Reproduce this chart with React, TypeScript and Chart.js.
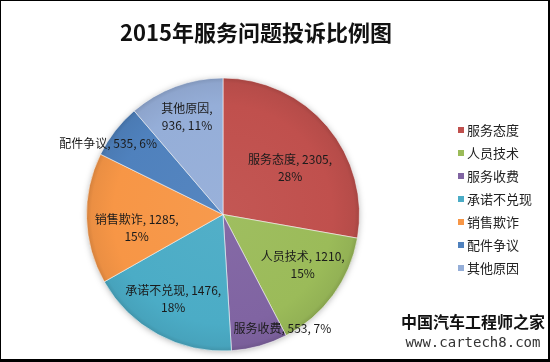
import React, { useEffect, useRef } from "react";
import { Chart, registerables } from "chart.js";

Chart.register(...registerables);

const TITLE = "2015年服务问题投诉比例图";
const categories = ["服务态度", "人员技术", "服务收费", "承诺不兑现", "销售欺诈", "配件争议", "其他原因"];
const values = [2305, 1210, 553, 1476, 1285, 535, 936];
const colors = ["#C0504D", "#9BBB59", "#8064A2", "#4BACC6", "#F79646", "#4F81BD", "#95AED8"];
// label line-break mode: 2 = break after value, 1 = break after name, 0 = single line
const labelBreak = [2, 2, 0, 2, 2, 0, 1];
const labelDist = [0.6, 0.69, 0.94, 0.72, 0.64, 0.99, 0.76];
const labelAngleOffset = [5, -4, -12, 2, -7, -6, 0];
const watermarkLines = ["中国汽车工程师之家", "www.cartech8.com"];

const FONT_CJK = '"Noto Sans CJK SC", "Noto Sans", sans-serif';

function shade(hex: string, f: number) {
  const n = parseInt(hex.slice(1), 16);
  let r = (n >> 16) & 255, g = (n >> 8) & 255, b = n & 255;
  if (f >= 0) {
    r = r + (255 - r) * f; g = g + (255 - g) * f; b = b + (255 - b) * f;
  } else {
    r = r * (1 + f); g = g * (1 + f); b = b * (1 + f);
  }
  return `rgb(${Math.round(r)},${Math.round(g)},${Math.round(b)})`;
}

export default function App() {
  const ref = useRef<HTMLCanvasElement | null>(null);
  useEffect(() => {
    document.body.style.margin = "0";
    const canvas = ref.current!;
    const total = values.reduce((a, b) => a + b, 0);

    const decor = {
      id: "decor",
      beforeDatasetsDraw(chart: any) {
        const ctx = chart.ctx;
        const arc = chart.getDatasetMeta(0).data[0];
        if (!arc) return;
        ctx.save();
        ctx.shadowColor = "rgba(0,0,0,0.35)";
        ctx.shadowBlur = 7;
        ctx.shadowOffsetX = 0;
        ctx.shadowOffsetY = 1;
        ctx.fillStyle = "#888";
        ctx.beginPath();
        ctx.arc(arc.x, arc.y, arc.outerRadius - 1, 0, Math.PI * 2);
        ctx.fill();
        ctx.restore();
      },
      afterDraw(chart: any) {
        const ctx = chart.ctx;
        const W = chart.width, H = chart.height;
        ctx.save();
        // title
        ctx.fillStyle = "#111";
        ctx.font = `bold 22px ${FONT_CJK}`;
        ctx.textAlign = "center";
        ctx.textBaseline = "middle";
        ctx.fillText(TITLE, 256, 33);

        // data labels
        const meta = chart.getDatasetMeta(0);
        ctx.font = `12px ${FONT_CJK}`;
        ctx.fillStyle = "#1b1b1b";
        meta.data.forEach((el: any, i: number) => {
          const mid = (el.startAngle + el.endAngle) / 2 + (labelAngleOffset[i] * Math.PI) / 180;
          const d = el.outerRadius * labelDist[i];
          const x = el.x + Math.cos(mid) * d;
          const y = el.y + Math.sin(mid) * d;
          const pct = Math.round((values[i] / total) * 100) + "%";
          let lines: string[];
          if (labelBreak[i] === 2) lines = [`${categories[i]}, ${values[i]},`, pct];
          else if (labelBreak[i] === 1) lines = [`${categories[i]},`, `${values[i]}, ${pct}`];
          else lines = [`${categories[i]}, ${values[i]}, ${pct}`];
          const lh = 17;
          lines.forEach((ln, k) => {
            ctx.fillText(ln, x, y + (k - (lines.length - 1) / 2) * lh);
          });
        });

        // legend
        ctx.textAlign = "left";
        ctx.font = `13px ${FONT_CJK}`;
        categories.forEach((c, i) => {
          const y = 130 + i * 23;
          ctx.fillStyle = colors[i];
          ctx.fillRect(458, y - 3, 6, 6);
          ctx.fillStyle = "#222";
          ctx.fillText(c, 467, y);
        });

        // watermark text bottom-right
        ctx.textAlign = "center";
        ctx.fillStyle = "#111";
        ctx.font = `bold 16px ${FONT_CJK}`;
        ctx.fillText(watermarkLines[0], 473, 322);
        ctx.fillStyle = "#333";
        ctx.font = `14px "DejaVu Sans Mono", monospace`;
        ctx.fillText(watermarkLines[1], 473, 343);

        // frame
        ctx.strokeStyle = "#000";
        ctx.lineWidth = 1;
        ctx.strokeRect(0.5, 0.5, W - 1, H - 1);
        ctx.fillStyle = "#000";
        ctx.fillRect(0, H - 3, W, 3);
        ctx.fillRect(W - 2, 0, 2, H);
        ctx.restore();
      },
    };

    const chart = new Chart(canvas, {
      type: "pie",
      data: {
        labels: categories,
        datasets: [
          {
            data: values,
            backgroundColor: (c: any) => {
              const chart = c.chart;
              const i = c.dataIndex;
              const ca = chart.chartArea;
              if (!ca || i === undefined) return colors[i ?? 0];
              const cx = (ca.left + ca.right) / 2;
              const cy = (ca.top + ca.bottom) / 2;
              const r = Math.min(ca.right - ca.left, ca.bottom - ca.top) / 2;
              const g = chart.ctx.createRadialGradient(cx, cy, 0, cx, cy, r);
              g.addColorStop(0, shade(colors[i], 0.04));
              g.addColorStop(0.8, colors[i]);
              g.addColorStop(0.96, shade(colors[i], -0.05));
              g.addColorStop(1, shade(colors[i], -0.15));
              return g;
            },
            borderColor: "rgba(255,255,255,0.55)",
            borderWidth: 1,
          },
        ],
      },
      options: {
        responsive: false,
        animation: false,
        layout: { padding: { top: 77, bottom: 10, left: 86, right: 190 } },
        plugins: {
          legend: { display: false },
          tooltip: { enabled: false },
          title: { display: false },
        },
      },
      plugins: [decor],
    });
    return () => chart.destroy();
  }, []);

  return (
    <div style={{ width: 550, height: 362, background: "#fff" }}>
      <canvas ref={ref} width={550} height={362} style={{ display: "block" }} />
    </div>
  );
}
